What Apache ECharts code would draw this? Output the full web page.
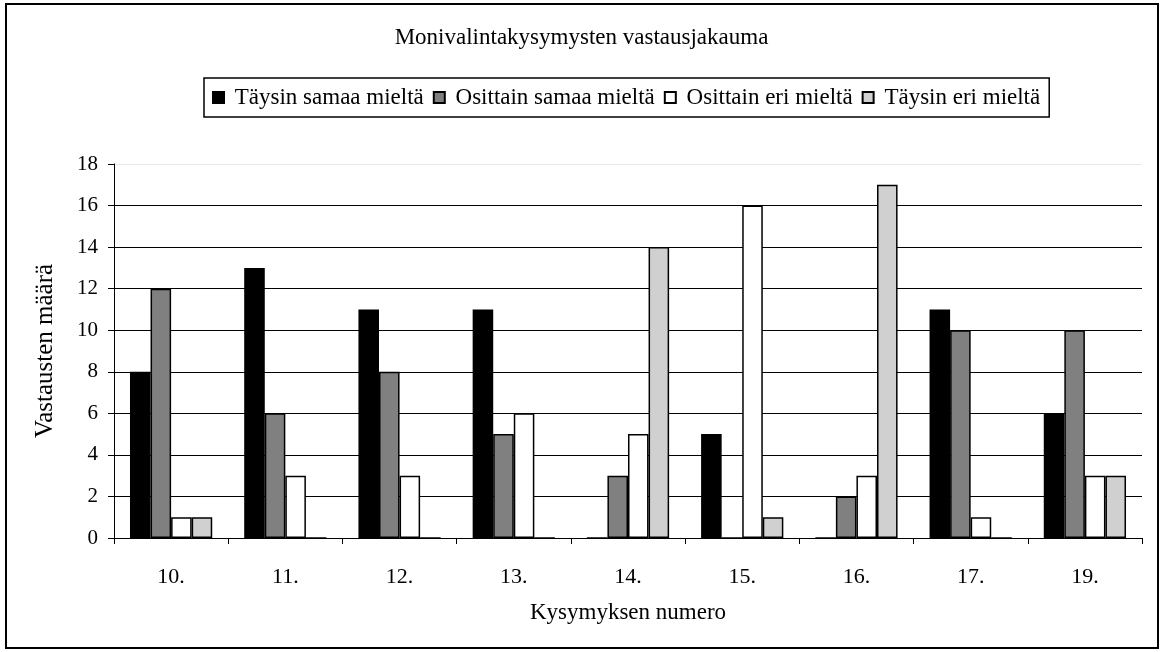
<!DOCTYPE html>
<html>
<head>
<meta charset="utf-8">
<script src="https://cdn.jsdelivr.net/npm/echarts@6/dist/echarts.min.js"></script>
<style>
  html, body { margin: 0; padding: 0; background: #fff; }
  #frame { position: absolute; left: 5px; top: 3px; width: 1150px; height: 642px; border: 2px solid #000; }
  #chart { position: absolute; left: 0; top: 0; width: 1163px; height: 652px; }
</style>
</head>
<body>
<div id="frame"></div>
<div id="chart"></div>
<script>
var categories = ['10.', '11.', '12.', '13.', '14.', '15.', '16.', '17.', '19.'];
var seriesNames = ['Täysin samaa mieltä', 'Osittain samaa mieltä', 'Osittain eri mieltä', 'Täysin eri mieltä'];
var taysinSamaa = [8, 13, 11, 11, 0, 5, 0, 11, 6];
var osittainSamaa = [12, 6, 8, 5, 3, 0, 2, 10, 10];
var osittainEri = [1, 3, 3, 6, 5, 16, 3, 1, 3];
var taysinEri = [1, 0, 0, 0, 14, 1, 17, 0, 3];
var colors = ['#000000', '#808080', '#ffffff', '#d0d0d0'];

function barchart(){
  var chartDom = document.getElementById('chart');
  var myChart = echarts.init(chartDom);
  var font = '"Liberation Serif", "Times New Roman", serif';
  var allData = [taysinSamaa, osittainSamaa, osittainEri, taysinEri];

  var series = allData.map(function (d, i) {
    return {
      name: seriesNames[i],
      type: 'bar',
      data: d,
      barGap: 0,
      barCategoryGap: '28%',
      itemStyle: { color: colors[i], borderColor: '#000', borderWidth: 1.5 }
    };
  });

  option = {
    animation: false,
    textStyle: { fontFamily: font },
    title: {
      text: 'Monivalintakysymysten vastausjakauma',
      left: 'center',
      top: 21,
      textStyle: { fontFamily: font, fontSize: 23, fontWeight: 'normal', color: '#000' }
    },
    legend: {
      left: 204,
      top: 78,
      padding: [8, 9, 8, 8],
      borderColor: '#000',
      borderWidth: 1.5,
      itemWidth: 11,
      itemHeight: 11,
      itemGap: 9,
      icon: 'rect',
      formatter: function (name) { return ' ' + name; },
      textStyle: { fontFamily: font, fontSize: 23, color: '#000' },
      data: seriesNames
    },
    grid: { left: 114, right: 21, top: 164, bottom: 114 },
    xAxis: {
      type: 'category',
      data: categories,
      name: 'Kysymyksen numero',
      nameLocation: 'middle',
      nameGap: 63,
      nameTextStyle: { fontFamily: font, fontSize: 23, color: '#000' },
      axisLine: { lineStyle: { color: '#000', width: 1 } },
      axisTick: { show: true, length: 6, inside: false, lineStyle: { color: '#000' } },
      axisLabel: { fontFamily: font, fontSize: 22, color: '#000', margin: 28 }
    },
    yAxis: {
      type: 'value',
      min: 0,
      max: 18,
      interval: 2,
      name: 'Vastausten määrä',
      nameLocation: 'middle',
      nameGap: 56,
      nameTextStyle: { fontFamily: font, fontSize: 25, color: '#000' },
      axisLine: { show: true, lineStyle: { color: '#000', width: 1 } },
      axisTick: { show: true, length: 6, lineStyle: { color: '#000' } },
      axisLabel: { fontFamily: font, fontSize: 21, color: '#000', margin: 16 },
      splitLine: {
        lineStyle: {
          color: ['#000', '#000', '#000', '#000', '#000', '#000', '#000', '#000', '#000', '#e8e8e8'],
          width: 1
        }
      }
    },
    series: series
  };

  option && myChart.setOption(option);
}

window.onload = function(e){
  barchart();
}
</script>
</body>
</html>
